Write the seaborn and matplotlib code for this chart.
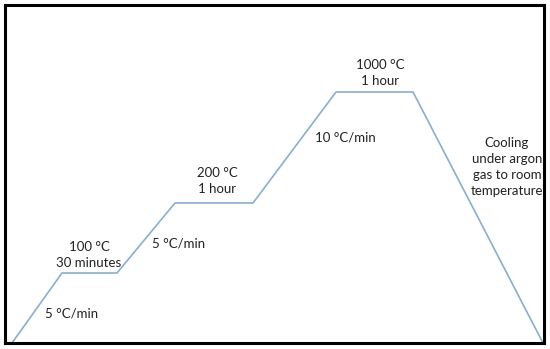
import pandas as pd
import matplotlib
matplotlib.use("Agg")
import matplotlib.pyplot as plt
import seaborn as sns

# Schematic heat-treatment profile (arbitrary units)
time = [7, 57, 112, 170, 248, 331, 408, 538]
temp = [0, 70, 70, 140, 140, 251, 251, 0]

labels = ["5 °C/min", "100 °C\n30 minutes", "5 °C/min", "200 °C\n1 hour",
          "10 °C/min", "1000 °C\n1 hour",
          "Cooling\nunder argon\ngas to room\ntemperature"]
label_x = [67, 84, 174, 212, 340, 375, 502]
label_y = [30, 88, 100, 162, 206, 270, 176]

sns.set_theme(style="white")
plt.rcParams["font.family"] = ["Lato", "DejaVu Sans"]

df = pd.DataFrame({"time": time, "temp": temp})

fig = plt.figure(figsize=(5.5, 3.49), dpi=100)
ax = fig.add_axes([5 / 550, 6 / 349, 539 / 550, 338 / 349])

sns.lineplot(data=df, x="time", y="temp", sort=False, ax=ax,
             color="#8aaed0", linewidth=1.2)

for txt, x, y in zip(labels, label_x, label_y):
    ax.text(x, y, txt, ha="center", va="center", fontsize=9.5,
            color="#222222", linespacing=1.4)

ax.set_xlim(0, 539)
ax.set_ylim(0, 338)
ax.set_xticks([])
ax.set_yticks([])
ax.set_xlabel("")
ax.set_ylabel("")
for s in ax.spines.values():
    s.set_visible(True)
    s.set_color("black")
    s.set_linewidth(2.2)

fig.savefig("out.png", dpi=100, facecolor="white")
